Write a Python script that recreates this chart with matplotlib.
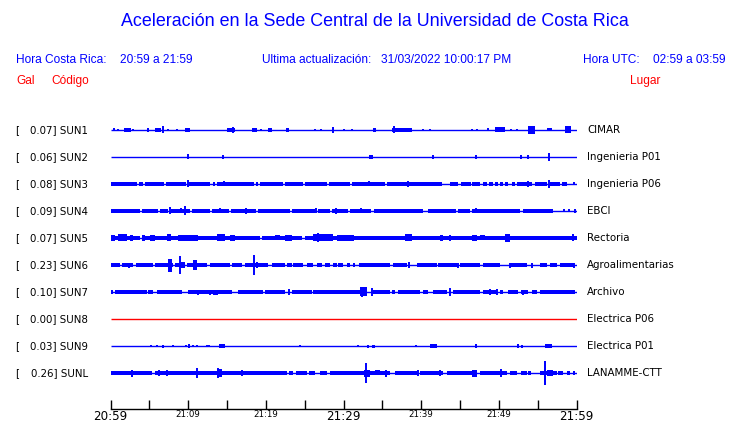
import matplotlib
matplotlib.use("Agg")
import matplotlib.pyplot as plt
import matplotlib.transforms as mtransforms

# station info, top to bottom
codes = ["SUN1", "SUN2", "SUN3", "SUN4", "SUN5", "SUN6", "SUN7", "SUN8", "SUN9", "SUNL"]
gal = [0.07, 0.06, 0.08, 0.09, 0.07, 0.23, 0.10, 0.00, 0.03, 0.26]
places = ["CIMAR", "Ingenieria P01", "Ingenieria P06", "EBCI", "Rectoria",
          "Agroalimentarias", "Archivo", "Electrica P06", "Electrica P01", "LANAMME-CTT"]

# noise band half height (px) of the "busy" stretches of each trace
base_half = [0, 0, 1.8, 1.7, 2.0, 1.7, 1.8, 0, 0, 2.0]

# busy stretches, minutes after 20:59 (start, end)
thick_sun3 = [(0, 3.4), (3.7, 4.2), (4.4, 6.9), (7.1, 9.7), (10.0, 12.8), (13.2, 13.5),
              (13.7, 18.5), (18.7, 19.0), (19.3, 22.2), (22.5, 24.8), (25.0, 27.9),
              (28.1, 30.8), (31.1, 35.4), (35.6, 42.7), (43.7, 44.7), (45.1, 46.4),
              (46.5, 47.6), (48.0, 48.5), (48.7, 49.2), (49.5, 49.9), (50.2, 50.6),
              (50.8, 51.2), (51.7, 52.1), (52.3, 54.3), (54.7, 56.2), (56.6, 57.9),
              (58.1, 58.8)]
thick_sun4 = [(0.1, 3.8), (4.1, 6.1), (6.4, 7.4), (7.8, 10.2), (10.5, 12.8), (13.1, 15.3),
              (15.5, 18.7), (19.0, 23.1), (23.4, 26.3), (26.7, 28.3), (28.5, 30.6),
              (30.8, 33.6), (33.9, 40.3), (40.9, 44.5), (44.8, 46.3), (46.6, 52.7),
              (53.1, 57.0)]
thick_sun5 = [(0, 3.8), (4.1, 19.2), (19.5, 24.7), (25.0, 60)]
thick_sun6 = [(0, 1.2), (1.5, 2.9), (3.3, 5.5), (5.7, 8.0), (8.3, 9.3), (9.8, 12.4),
              (12.8, 15.4), (15.7, 16.9), (17.3, 20.3), (20.8, 22.5), (22.7, 23.4),
              (23.5, 24.8), (25.3, 26.1), (26.6, 27.2), (27.6, 28.2), (28.6, 29.2),
              (29.3, 29.9), (30.4, 30.8), (31.2, 31.5), (32.0, 36.0), (36.4, 38.2),
              (39.5, 42.1), (42.2, 44.6), (45.0, 47.6), (48.0, 50.2), (51.4, 53.6),
              (55.3, 56.2), (56.6, 57.5), (57.9, 59.7)]
thick_sun7 = [(0, 0.3), (0.6, 4.7), (4.8, 5.5), (6.0, 9.2), (10.0, 15.6), (16.4, 19.6),
              (19.9, 22.5), (23.4, 25.9), (26.1, 33.0), (33.8, 36.0), (36.3, 36.6),
              (37.0, 39.8), (40.2, 40.9), (41.5, 43.3), (44.1, 47.6), (48.0, 49.8),
              (50.2, 50.6), (51.2, 52.5), (52.8, 53.8), (54.3, 54.9), (55.3, 59.8)]
thick_sunl = [(0, 5.35), (5.7, 22.7), (23.0, 23.5), (23.9, 24.4), (24.4, 25.3), (25.6, 26.3),
              (27.0, 27.9), (28.3, 30.8), (30.8, 36.0), (36.6, 39.5), (39.8, 42.8),
              (43.3, 47.2), (47.6, 51.0), (51.4, 52.3), (52.9, 53.6), (53.7, 54.2),
              (55.3, 57.5), (57.6, 58.2), (58.8, 59.2), (59.6, 59.8)]

# bursts / spikes (start, end, half height px); start == end is a single spike
bursts_sun1 = [(0.45, 0.45, 1.5), (0.97, 0.97, 1.2), (1.74, 2.64, 2.3), (2.9, 2.9, 1.3),
               (4.7, 4.96, 1.8), (5.73, 6.5, 2.2), (6.76, 6.76, 3.5), (7.41, 7.41, 1.2),
               (8.57, 8.57, 1.0), (9.6, 10.24, 2.0), (15.0, 16.0, 2.3), (15.8, 15.8, 3.0),
               (18.2, 18.9, 2.0), (19.4, 19.4, 1.2), (20.3, 20.8, 2.0), (22.6, 23.0, 2.0),
               (26.3, 26.3, 1.2), (27.1, 27.1, 1.2), (28.7, 28.7, 3.0), (30.1, 30.1, 1.0),
               (31.1, 31.1, 1.0), (33.8, 34.2, 1.8), (36.3, 38.8, 2.3), (36.5, 36.5, 3.5),
               (40.3, 40.3, 1.2), (41.2, 41.2, 1.0), (46.6, 46.6, 1.0), (47.2, 47.2, 1.0),
               (48.6, 48.6, 1.5), (49.5, 50.8, 2.5), (51.6, 51.6, 1.2), (52.3, 52.3, 1.2),
               (53.8, 54.7, 4.0), (56.2, 56.8, 1.5), (58.5, 59.3, 3.5)]
bursts_sun2 = [(9.98, 9.98, 2.5), (14.5, 14.5, 2.0), (33.3, 33.8, 2.0), (41.5, 41.5, 2.0),
               (47.1, 47.1, 2.0), (52.9, 52.9, 1.8), (53.8, 53.8, 2.0), (56.4, 56.4, 4.0)]
bursts_sun3 = [(10.0, 10.0, 3.5), (14.6, 14.6, 2.5), (33.3, 33.3, 2.5), (38.3, 38.3, 3.0),
               (53.8, 53.8, 3.0), (56.4, 56.4, 4.0), (59.7, 59.7, 1.5)]
bursts_sun4 = [(7.7, 7.7, 3.5), (9.1, 9.1, 2.5), (9.6, 9.6, 4.5), (14.1, 14.1, 2.5),
               (17.5, 17.5, 3.0), (26.5, 26.5, 2.5), (29.0, 29.0, 3.0), (32.3, 32.3, 2.5),
               (47.0, 47.0, 2.5), (58.4, 58.4, 1.5), (59.0, 59.0, 1.5), (59.8, 59.8, 2.0)]
bursts_sun5 = [(0, 0.6, 3.0), (1.0, 2.1, 3.5), (2.5, 2.9, 3.0), (4.1, 4.4, 3.0),
               (5.1, 5.7, 3.0), (7.3, 7.8, 3.5), (8.7, 11.3, 3.0), (13.7, 14.8, 3.5),
               (15.4, 16.0, 3.0), (21.2, 21.8, 2.5), (22.5, 23.4, 3.0), (26.1, 28.7, 3.5),
               (26.7, 26.7, 4.5), (29.2, 29.9, 3.0), (29.7, 31.4, 3.0), (37.9, 38.8, 3.5),
               (42.4, 42.8, 3.0), (43.7, 43.7, 3.0), (46.6, 47.2, 3.0), (47.6, 48.2, 2.5),
               (50.8, 51.5, 4.0), (59.6, 59.6, 3.5)]
bursts_sun6 = [(2.4, 2.4, 2.5), (7.4, 7.9, 6.5), (8.95, 8.95, 9.0), (9.1, 9.6, 3.0),
               (10.6, 11.1, 5.0), (18.5, 18.5, 10.0), (18.7, 19.0, 3.0), (38.4, 38.4, 3.0),
               (44.7, 44.7, 2.5), (51.4, 51.4, 2.5), (54.3, 54.3, 2.5), (59.7, 59.7, 2.5)]
bursts_sun7 = [(11.3, 11.3, 2.5), (12.8, 12.8, 2.5), (13.2, 13.8, 2.5), (14.9, 15.4, 2.2),
               (23.0, 23.0, 3.0), (32.1, 33.0, 4.5), (32.4, 32.4, 5.5), (33.7, 33.7, 4.0),
               (43.7, 43.7, 4.0), (48.9, 48.9, 3.0), (49.8, 49.8, 3.0), (53.1, 53.1, 2.5)]
bursts_sun8 = []
bursts_sun9 = [(5.2, 5.2, 1.2), (6.0, 6.0, 1.2), (6.6, 6.9, 1.5), (8.0, 8.0, 1.0),
               (9.7, 9.7, 1.2), (10.0, 10.2, 2.0), (10.6, 10.6, 1.2), (11.1, 11.1, 1.0),
               (12.4, 12.4, 1.2), (12.7, 12.7, 1.0), (14.0, 14.7, 2.0), (24.4, 24.4, 1.0),
               (31.9, 31.9, 1.0), (33.0, 33.3, 1.5), (33.7, 34.1, 1.5), (39.3, 39.3, 1.0),
               (41.2, 42.0, 1.8), (46.9, 47.2, 1.8), (52.3, 52.6, 1.8), (53.0, 53.0, 1.5),
               (56.0, 56.9, 2.3)]
bursts_sunl = [(2.6, 2.9, 3.5), (6.25, 6.25, 2.5), (7.3, 7.3, 2.5), (11.1, 11.1, 5.0),
               (13.7, 14.4, 4.0), (13.8, 13.8, 5.0), (16.9, 16.9, 2.5), (32.9, 32.9, 10.0),
               (32.6, 33.4, 3.5), (34.1, 34.7, 2.5), (35.3, 35.6, 3.5), (39.6, 39.6, 2.5),
               (42.4, 42.4, 3.0), (46.6, 47.2, 3.5), (50.3, 50.3, 4.0), (55.8, 56.1, 12.0),
               (56.2, 57.0, 3.0)]

thick = [[], [], thick_sun3, thick_sun4, thick_sun5, thick_sun6, thick_sun7, [], [], thick_sunl]
bursts = [bursts_sun1, bursts_sun2, bursts_sun3, bursts_sun4, bursts_sun5,
          bursts_sun6, bursts_sun7, bursts_sun8, bursts_sun9, bursts_sunl]

tick_minutes = list(range(0, 61, 5))
tick_labels = ["20:59", "", "21:09", "", "21:19", "", "21:29", "", "21:39", "", "21:49", "", "21:59"]
big_labels = ["20:59", "21:29", "21:59"]

W, H = 740, 423
fig = plt.figure(figsize=(W / 100, H / 100), dpi=100)

# axes placed in pixel terms: x 110.5..576.5, y 115..409
AX_BOTTOM = 409.0
ax = fig.add_axes([110.5 / W, (H - AX_BOTTOM) / H, 466 / W, (AX_BOTTOM - 115) / H])
PX = 27.0  # pixels between traces
ax.set_xlim(0, 60)
ax.set_ylim((AX_BOTTOM - 130) / PX, (115 - 130) / PX)

for i, code in enumerate(codes):
    col = "red" if gal[i] == 0 else "blue"
    ax.hlines(i, 0, 60, color=col, lw=1.0)
    if thick[i]:
        h = base_half[i] / PX
        ax.broken_barh([(a, b - a) for a, b in thick[i]], (i - h, 2 * h),
                       facecolor=col, edgecolor="none")
    for a, b, amp in bursts[i]:
        h = amp / PX
        if b - a < 0.15:
            ax.vlines(a, i - h, i + h, color=col, lw=1.4)
        else:
            ax.broken_barh([(a, b - a)], (i - h, 2 * h), facecolor=col, edgecolor="none")

for s in ["left", "right", "top"]:
    ax.spines[s].set_visible(False)
ax.spines["bottom"].set_linewidth(1.0)
ax.set_yticks([])
ax.set_xticks(tick_minutes, tick_labels)
ax.tick_params(axis="x", direction="in", length=6.5, width=1.0, pad=0.5, color="black")
for lab in ax.get_xticklabels():
    if lab.get_text() in big_labels:
        lab.set_fontsize(8.6)
    else:
        lab.set_fontsize(6.2)
    lab.set_family("DejaVu Sans")

# station labels on both sides
tr = mtransforms.blended_transform_factory(fig.transFigure, ax.transData)
for i, code in enumerate(codes):
    fig.text(15 / W, i, "[", transform=tr, fontsize=7.4, family="DejaVu Sans", va="center")
    fig.text(88 / W, i, "%.2f] %s" % (gal[i], code), transform=tr, fontsize=7.4,
             family="DejaVu Sans", va="center", ha="right")
    fig.text(587 / W, i, places[i], transform=tr, fontsize=7.4, family="DejaVu Sans",
             va="center", ha="left")

hf = "Liberation Sans"
fig.text(375 / W, 1 - 22 / H, "Aceleración en la Sede Central de la Universidad de Costa Rica",
         ha="center", va="center", fontsize=12.9, color="blue", family=hf)
fig.text(16 / W, 1 - 60 / H, "Hora Costa Rica:", va="center", fontsize=8.6, color="blue", family=hf)
fig.text(120 / W, 1 - 60 / H, "20:59 a 21:59", va="center", fontsize=8.6, color="blue", family=hf)
fig.text(262 / W, 1 - 60 / H, "Ultima actualización:", va="center", fontsize=8.6, color="blue", family=hf)
fig.text(381 / W, 1 - 60 / H, "31/03/2022 10:00:17 PM", va="center", fontsize=8.6, color="blue", family=hf)
fig.text(583 / W, 1 - 60 / H, "Hora UTC:", va="center", fontsize=8.6, color="blue", family=hf)
fig.text(653 / W, 1 - 60 / H, "02:59 a 03:59", va="center", fontsize=8.6, color="blue", family=hf)
fig.text(16 / W, 1 - 81 / H, "Gal", va="center", fontsize=8.6, color="red", family=hf)
fig.text(51 / W, 1 - 81 / H, "Código", va="center", fontsize=8.6, color="red", family=hf)
fig.text(630 / W, 1 - 81 / H, "Lugar", va="center", fontsize=8.6, color="red", family=hf)

fig.savefig("out.png", dpi=100)
